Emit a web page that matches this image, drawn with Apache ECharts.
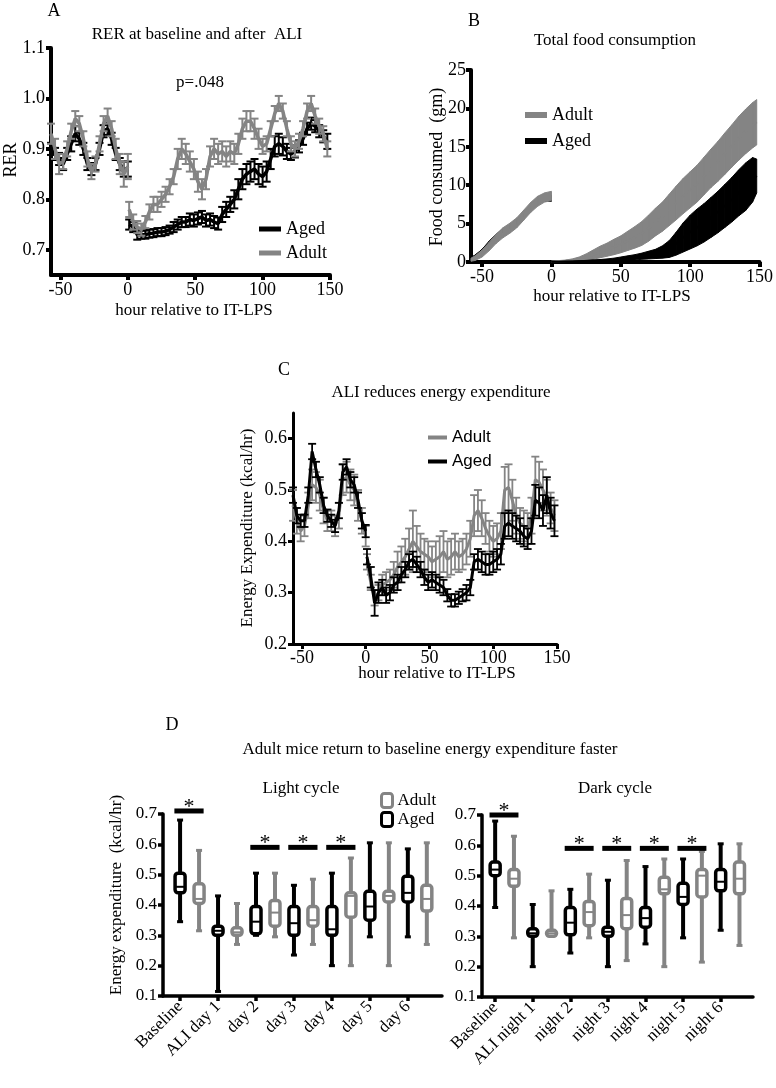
<!DOCTYPE html>
<html>
<head>
<meta charset="utf-8">
<script src="https://cdn.jsdelivr.net/npm/echarts@6/dist/echarts.min.js"></script>
<style>
  html, body { margin: 0; padding: 0; background: #fff; }
  #chart { width: 776px; height: 1088px; }
</style>
</head>
<body>
<div id="chart"></div>
<script>
// hours relative to IT-LPS (shared by panels A and C)
const hoursPre = [-57, -54, -51, -48, -45, -42, -39, -36, -33, -30, -27, -24, -21, -18, -15, -12, -9, -6, -3, 0]
const hoursPost = [1, 4, 7, 10, 13, 16, 19, 22, 25, 28, 31, 34, 37, 40, 43, 46, 49, 52, 55, 58,
  61, 64, 67, 70, 73, 76, 79, 82, 85, 88, 91, 94, 97, 100, 103, 106, 109, 112, 115, 118,
  121, 124, 127, 130, 133, 136, 139, 142, 145, 148]

// A - RER
const rerAdultPre = [0.93, 0.90, 0.87, 0.875, 0.90, 0.935, 0.96, 0.95, 0.92, 0.88, 0.855, 0.87, 0.91, 0.95, 0.965, 0.94, 0.90, 0.87, 0.85, 0.865]
const rerAdultPreSem = [0.02, 0.02, 0.02, 0.015, 0.015, 0.015, 0.015, 0.015, 0.015, 0.015, 0.015, 0.015, 0.015, 0.015, 0.015, 0.015, 0.02, 0.02, 0.025, 0.025]
const rerAgedPre = [0.90, 0.89, 0.88, 0.87, 0.89, 0.91, 0.93, 0.92, 0.90, 0.87, 0.86, 0.87, 0.90, 0.935, 0.94, 0.92, 0.89, 0.87, 0.86, 0.86]
const rerAgedPreSem = [0.012, 0.012, 0.012, 0.012, 0.012, 0.015, 0.015, 0.012, 0.012, 0.012, 0.012, 0.012, 0.012, 0.012, 0.012, 0.012, 0.012, 0.012, 0.015, 0.015]
const rerAdultPost = [0.78, 0.755, 0.745, 0.74, 0.755, 0.775, 0.79, 0.79, 0.80, 0.81,
  0.825, 0.845, 0.88, 0.90, 0.89, 0.875, 0.86, 0.835, 0.82, 0.84,
  0.885, 0.90, 0.89, 0.895, 0.885, 0.895, 0.89, 0.91, 0.94, 0.955,
  0.955, 0.94, 0.92, 0.905, 0.91, 0.94, 0.97, 0.99, 0.975, 0.94,
  0.91, 0.90, 0.915, 0.94, 0.975, 0.99, 0.965, 0.945, 0.93, 0.90]
const rerAdultPostSem = [0.015, 0.015, 0.012, 0.012, 0.012, 0.015, 0.015, 0.015, 0.015, 0.015,
  0.015, 0.015, 0.02, 0.02, 0.02, 0.02, 0.02, 0.02, 0.02, 0.02,
  0.02, 0.02, 0.02, 0.02, 0.02, 0.02, 0.02, 0.02, 0.02, 0.02,
  0.02, 0.02, 0.02, 0.015, 0.015, 0.015, 0.015, 0.015, 0.015, 0.015,
  0.015, 0.015, 0.015, 0.015, 0.015, 0.015, 0.015, 0.015, 0.015, 0.015]
const rerAgedPost = [0.75, 0.745, 0.73, 0.73, 0.73, 0.732, 0.733, 0.735, 0.735, 0.737,
  0.74, 0.745, 0.75, 0.755, 0.755, 0.76, 0.758, 0.762, 0.765, 0.758,
  0.76, 0.755, 0.752, 0.77, 0.78, 0.79, 0.80, 0.82, 0.84, 0.85,
  0.855, 0.86, 0.85, 0.845, 0.855, 0.88, 0.905, 0.91, 0.905, 0.895,
  0.89, 0.895, 0.905, 0.92, 0.94, 0.95, 0.945, 0.935, 0.925, 0.915]
const rerAgedPostSem = [0.01, 0.01, 0.01, 0.008, 0.008, 0.008, 0.008, 0.008, 0.008, 0.008,
  0.008, 0.01, 0.01, 0.01, 0.01, 0.012, 0.012, 0.012, 0.012, 0.012,
  0.012, 0.012, 0.012, 0.015, 0.015, 0.015, 0.018, 0.02, 0.02, 0.02,
  0.02, 0.02, 0.02, 0.02, 0.02, 0.02, 0.02, 0.02, 0.018, 0.015,
  0.012, 0.012, 0.012, 0.012, 0.012, 0.012, 0.012, 0.012, 0.012, 0.015]

// B - cumulative food
const foodPreHours = [-58, -55, -50, -45, -40, -35, -30, -25, -20, -15, -10, -5, 0]
const foodAdultPre = [0.3, 0.5, 1.1, 2.0, 3.0, 3.8, 4.4, 5.1, 6.1, 7.1, 7.9, 8.4, 8.6]
const foodAdultPreSem = [0.2, 0.3, 0.45, 0.55, 0.6, 0.65, 0.65, 0.65, 0.65, 0.65, 0.65, 0.6, 0.6]
const foodAgedPre = [0.5, 0.8, 1.5, 2.5, 3.4, 4.1, 4.6, 5.2, 6.1, 7.1, 7.8, 8.2, 8.3]
const foodAgedPreSem = [0.1, 0.1, 0.15, 0.2, 0.2, 0.2, 0.2, 0.2, 0.2, 0.2, 0.2, 0.3, 0.4]
const foodPostHours = [0, 5, 10, 15, 20, 25, 30, 35, 40, 45, 50, 55, 60, 65, 70, 75, 80, 85, 90, 95,
  100, 105, 110, 115, 120, 125, 130, 135, 140, 145, 148]
const foodAdultPost = [0.05, 0.1, 0.15, 0.25, 0.4, 0.65, 0.95, 1.3, 1.6, 1.95,
  2.3, 2.75, 3.2, 3.7, 4.4, 5.2, 5.9, 6.8, 7.7, 8.6,
  9.4, 10.2, 11.2, 12.2, 13.1, 14.1, 15.1, 16.1, 17.0, 17.8, 18.2]
const foodAdultPostSem = [0.05, 0.08, 0.1, 0.15, 0.25, 0.4, 0.6, 0.75, 0.85, 1.0,
  1.1, 1.25, 1.4, 1.55, 1.7, 1.8, 1.9, 2.05, 2.2, 2.3,
  2.35, 2.4, 2.45, 2.5, 2.6, 2.7, 2.75, 2.85, 2.9, 2.95, 2.95]
const foodAgedPost = [0.02, 0.03, 0.05, 0.07, 0.1, 0.13, 0.17, 0.2, 0.25, 0.3,
  0.4, 0.5, 0.6, 0.75, 0.9, 1.05, 1.3, 1.7, 2.4, 3.2,
  3.9, 4.5, 5.1, 5.8, 6.5, 7.3, 8.1, 9.0, 9.8, 10.7, 11.2]
const foodAgedPostSem = [0.02, 0.03, 0.04, 0.05, 0.06, 0.08, 0.1, 0.12, 0.15, 0.2,
  0.25, 0.3, 0.35, 0.4, 0.5, 0.6, 0.8, 1.1, 1.5, 1.9,
  2.2, 2.4, 2.5, 2.6, 2.7, 2.8, 2.9, 3.0, 3.1, 2.9, 2.2]

// C - energy expenditure
const eeAdultPre = [0.47, 0.44, 0.42, 0.43, 0.47, 0.51, 0.505, 0.49, 0.46, 0.44, 0.44, 0.43, 0.45, 0.52, 0.525, 0.51, 0.50, 0.47, 0.44, 0.41]
const eeAdultPreSem = [0.03, 0.025, 0.02, 0.02, 0.025, 0.03, 0.03, 0.03, 0.025, 0.02, 0.02, 0.02, 0.025, 0.03, 0.03, 0.03, 0.03, 0.03, 0.025, 0.02]
const eeAgedPre = [0.49, 0.45, 0.44, 0.44, 0.49, 0.575, 0.54, 0.51, 0.47, 0.45, 0.44, 0.43, 0.46, 0.535, 0.545, 0.52, 0.51, 0.48, 0.44, 0.42]
const eeAgedPreSem = [0.015, 0.015, 0.012, 0.012, 0.015, 0.015, 0.015, 0.015, 0.015, 0.012, 0.012, 0.012, 0.015, 0.015, 0.015, 0.015, 0.015, 0.015, 0.015, 0.012]
const eeAdultPost = [0.36, 0.32, 0.29, 0.30, 0.315, 0.32, 0.325, 0.335, 0.35, 0.36,
  0.37, 0.385, 0.40, 0.39, 0.38, 0.375, 0.37, 0.36, 0.365, 0.37,
  0.38, 0.365, 0.37, 0.38, 0.37, 0.375, 0.385, 0.405, 0.45, 0.46,
  0.445, 0.425, 0.41, 0.40, 0.405, 0.42, 0.50, 0.505, 0.48, 0.45,
  0.435, 0.43, 0.425, 0.45, 0.52, 0.515, 0.50, 0.485, 0.465, 0.45]
const eeAdultPostSem = [0.015, 0.015, 0.015, 0.015, 0.02, 0.02, 0.02, 0.025, 0.03, 0.03,
  0.035, 0.04, 0.06, 0.04, 0.035, 0.03, 0.03, 0.03, 0.035, 0.04,
  0.04, 0.035, 0.035, 0.035, 0.03, 0.03, 0.03, 0.035, 0.04, 0.04,
  0.035, 0.03, 0.03, 0.03, 0.03, 0.035, 0.045, 0.045, 0.04, 0.035,
  0.03, 0.03, 0.03, 0.035, 0.045, 0.04, 0.04, 0.035, 0.03, 0.03]
const eeAgedPost = [0.37, 0.33, 0.28, 0.30, 0.31, 0.295, 0.30, 0.315, 0.32, 0.335,
  0.345, 0.36, 0.365, 0.355, 0.345, 0.33, 0.32, 0.325, 0.32, 0.315,
  0.31, 0.295, 0.285, 0.285, 0.29, 0.295, 0.30, 0.31, 0.36, 0.365,
  0.36, 0.355, 0.355, 0.36, 0.365, 0.375, 0.43, 0.435, 0.43, 0.425,
  0.42, 0.41, 0.405, 0.42, 0.48, 0.475, 0.46, 0.49, 0.455, 0.44]
const eeAgedPostSem = [0.015, 0.02, 0.025, 0.02, 0.015, 0.015, 0.015, 0.015, 0.015, 0.015,
  0.015, 0.015, 0.015, 0.015, 0.015, 0.015, 0.015, 0.015, 0.015, 0.015,
  0.015, 0.012, 0.012, 0.012, 0.012, 0.012, 0.015, 0.015, 0.015, 0.02,
  0.02, 0.02, 0.02, 0.02, 0.02, 0.02, 0.025, 0.025, 0.025, 0.025,
  0.025, 0.02, 0.02, 0.025, 0.03, 0.03, 0.03, 0.035, 0.03, 0.03]

// D - box plots [min, q1, median, q3, max]
const lightCats = ['Baseline', 'ALI day 1', 'day 2', 'day 3', 'day 4', 'day 5', 'day 6']
const lightAged = [[0.345, 0.44, 0.46, 0.505, 0.68], [0.115, 0.30, 0.315, 0.33, 0.43], [0.30, 0.305, 0.345, 0.395, 0.505],
  [0.235, 0.30, 0.34, 0.395, 0.465], [0.2, 0.30, 0.32, 0.395, 0.505], [0.295, 0.35, 0.395, 0.445, 0.605], [0.295, 0.41, 0.44, 0.495, 0.585]]
const lightAdult = [[0.315, 0.405, 0.42, 0.47, 0.58], [0.27, 0.30, 0.31, 0.325, 0.405], [0.295, 0.33, 0.375, 0.415, 0.505],
  [0.27, 0.33, 0.35, 0.395, 0.485], [0.2, 0.36, 0.43, 0.44, 0.555], [0.2, 0.41, 0.43, 0.445, 0.605], [0.27, 0.38, 0.42, 0.465, 0.605]]
const lightSig = [0, 2, 3, 4]
const lightSigLevel = [0.71, 0.59, 0.59, 0.59]

const darkCats = ['Baseline', 'ALI night 1', 'night 2', 'night 3', 'night 4', 'night 5', 'night 6']
const darkAged = [[0.395, 0.50, 0.52, 0.545, 0.68], [0.2, 0.30, 0.31, 0.325, 0.405], [0.245, 0.305, 0.345, 0.395, 0.455],
  [0.2, 0.30, 0.315, 0.33, 0.485], [0.275, 0.33, 0.36, 0.395, 0.53], [0.295, 0.405, 0.43, 0.475, 0.555], [0.32, 0.45, 0.48, 0.52, 0.605]]
const darkAdult = [[0.295, 0.465, 0.49, 0.52, 0.63], [0.30, 0.30, 0.31, 0.32, 0.45], [0.295, 0.335, 0.38, 0.415, 0.505],
  [0.22, 0.325, 0.37, 0.425, 0.55], [0.2, 0.44, 0.455, 0.495, 0.555], [0.215, 0.43, 0.50, 0.52, 0.58], [0.27, 0.44, 0.49, 0.545, 0.605]]
const darkSig = [0, 2, 3, 4, 5]
const darkSigLevel = [0.70, 0.59, 0.59, 0.59, 0.59]

const hourTicks = [-50, 0, 50, 100, 150]

const GRAY = '#848484'
const BLACK = '#000'
const SERIF = '"Liberation Serif", "Times New Roman", serif'
const SANS = '"Liberation Sans", Arial, sans-serif'

const pairs = (xs, ys) => xs.map((x, i) => [x, ys[i]])
const errData = (xs, ys, es) => xs.map((x, i) => [x, ys[i] - es[i], ys[i] + es[i]])

// error bar with caps
const errRender = (color, cap, lw) => (params, api) => {
  const x = api.value(0)
  const top = api.coord([x, api.value(2)])
  const bot = api.coord([x, api.value(1)])
  const st = { stroke: color, lineWidth: lw }
  return {
    type: 'group',
    children: [
      { type: 'line', shape: { x1: top[0], y1: top[1], x2: bot[0], y2: bot[1] }, style: st },
      { type: 'line', shape: { x1: top[0] - cap, y1: top[1], x2: top[0] + cap, y2: top[1] }, style: st },
      { type: 'line', shape: { x1: bot[0] - cap, y1: bot[1], x2: bot[0] + cap, y2: bot[1] }, style: st }
    ]
  }
}

// filled SEM band between consecutive points
const bandRender = (color) => (params, api) => {
  const i = params.dataIndexInside
  if (i >= params.dataInsideLength - 1) return
  const x0 = api.value(0, i), x1 = api.value(0, i + 1)
  const pts = [
    api.coord([x0, api.value(2, i)]), api.coord([x1, api.value(2, i + 1)]),
    api.coord([x1, api.value(1, i + 1)]), api.coord([x0, api.value(1, i)])
  ]
  return { type: 'polygon', shape: { points: pts }, style: { fill: color, stroke: color, lineWidth: 1 } }
}

// box and whisker
const boxRender = (color) => (params, api) => {
  const x = api.value(0)
  const pMin = api.coord([x, api.value(1)])
  const pQ1 = api.coord([x, api.value(2)])
  const pMed = api.coord([x, api.value(3)])
  const pQ3 = api.coord([x, api.value(4)])
  const pMax = api.coord([x, api.value(5)])
  const hw = 5
  return {
    type: 'group',
    children: [
      { type: 'line', shape: { x1: pMin[0], y1: pMin[1], x2: pMax[0], y2: pMax[1] }, style: { stroke: color, lineWidth: 4 } },
      { type: 'line', shape: { x1: pMin[0] - 3, y1: pMin[1], x2: pMin[0] + 3, y2: pMin[1] }, style: { stroke: color, lineWidth: 3 } },
      { type: 'line', shape: { x1: pMax[0] - 3, y1: pMax[1], x2: pMax[0] + 3, y2: pMax[1] }, style: { stroke: color, lineWidth: 3 } },
      { type: 'rect', shape: { x: pQ3[0] - hw, y: pQ3[1], width: hw * 2, height: pQ1[1] - pQ3[1], r: 3 },
        style: { fill: '#fff', stroke: color, lineWidth: 3.5 } },
      { type: 'line', shape: { x1: pMed[0] - hw, y1: pMed[1], x2: pMed[0] + hw, y2: pMed[1] }, style: { stroke: color, lineWidth: 2 } }
    ]
  }
}

// significance bar with star
const sigRender = (params, api) => {
  const i = api.value(0), lv = api.value(1)
  const a = api.coord([i - 0.15, lv])
  const b = api.coord([i + 0.62, lv])
  return {
    type: 'group',
    children: [
      { type: 'line', shape: { x1: a[0], y1: a[1], x2: b[0], y2: b[1] }, style: { stroke: BLACK, lineWidth: 5 } },
      { type: 'text', x: (a[0] + b[0]) / 2, y: a[1] - 4,
        style: { text: '*', font: '22px ' + SERIF, fill: BLACK, align: 'center', verticalAlign: 'middle',
          textAlign: 'center', textVerticalAlign: 'middle' } }
    ]
  }
}

const label = (x, y, s, size, rot, family) => ({
  type: 'text', x: x, y: y, rotation: rot || 0,
  style: { text: s, font: size + 'px ' + (family || SERIF), fill: BLACK,
    align: 'center', verticalAlign: 'middle', textAlign: 'center', textVerticalAlign: 'middle' }
})

const axisBase = (lw, fs, margin) => ({
  axisLine: { onZero: false, lineStyle: { color: BLACK, width: lw } },
  axisTick: { length: 5, lineStyle: { color: BLACK, width: lw } },
  axisLabel: { color: BLACK, fontFamily: SERIF, fontSize: fs, margin: margin },
  splitLine: { show: false }
})

const mk = (base, extra) => {
  const o = Object.assign({}, base, extra)
  o.axisTick = Object.assign({}, base.axisTick, extra.axisTick || {})
  o.axisLabel = Object.assign({}, base.axisLabel, extra.axisLabel || {})
  return o
}
const fmt1 = (v) => v.toFixed(1)

const lineS = (name, xi, xs, ys, color, width, z) => ({
  name: name, type: 'line', xAxisIndex: xi, yAxisIndex: xi, data: pairs(xs, ys),
  showSymbol: false, symbol: 'none', lineStyle: { color: color, width: width }, itemStyle: { color: color }, z: z
})

const myChart = echarts.init(document.getElementById('chart'))

const option = {
  animation: false,
  backgroundColor: '#fff',
  grid: [
    { left: 51, top: 48, width: 279, height: 227 },
    { left: 471, top: 70, width: 291, height: 192 },
    { left: 293, top: 413, width: 264, height: 231 },
    { left: 163, top: 814, width: 279, height: 182 },
    { left: 482, top: 815, width: 271, height: 182 }
  ],
  xAxis: [
    mk(axisBase(4, 18, 6), { gridIndex: 0, type: 'value', min: -57, max: 150,
      axisTick: { customValues: hourTicks }, axisLabel: { customValues: hourTicks } }),
    mk(axisBase(4, 18, 6), { gridIndex: 1, type: 'value', min: -58, max: 150,
      axisTick: { customValues: hourTicks }, axisLabel: { customValues: hourTicks } }),
    mk(axisBase(3, 18, 5), { gridIndex: 2, type: 'value', min: -57, max: 150,
      axisTick: { customValues: hourTicks }, axisLabel: { customValues: hourTicks } }),
    mk(axisBase(3.5, 17, 8), { gridIndex: 3, type: 'value', min: -0.45, max: 6.9,
      axisTick: { customValues: [0, 1, 2, 3, 4, 5, 6] },
      axisLabel: { customValues: [0, 1, 2, 3, 4, 5, 6], rotate: 45, formatter: (v) => lightCats[Math.round(v)] } }),
    mk(axisBase(3.5, 17, 8), { gridIndex: 4, type: 'value', min: -0.35, max: 6.86,
      axisTick: { customValues: [0, 1, 2, 3, 4, 5, 6] },
      axisLabel: { customValues: [0, 1, 2, 3, 4, 5, 6], rotate: 45, formatter: (v) => darkCats[Math.round(v)] } })
  ],
  yAxis: [
    mk(axisBase(4, 18, 6), { gridIndex: 0, type: 'value', min: 0.65, max: 1.1,
      axisTick: { customValues: [0.7, 0.8, 0.9, 1.0, 1.1] },
      axisLabel: { customValues: [0.7, 0.8, 0.9, 1.0, 1.1], formatter: fmt1 } }),
    mk(axisBase(4, 18, 5), { gridIndex: 1, type: 'value', min: 0, max: 25, interval: 5 }),
    mk(axisBase(3, 18, 6), { gridIndex: 2, type: 'value', min: 0.2, max: 0.65,
      axisTick: { customValues: [0.2, 0.3, 0.4, 0.5, 0.6] },
      axisLabel: { customValues: [0.2, 0.3, 0.4, 0.5, 0.6], formatter: fmt1 } }),
    mk(axisBase(3.5, 17, 6), { gridIndex: 3, type: 'value', min: 0.1, max: 0.7, interval: 0.1, axisLabel: { formatter: fmt1 } }),
    mk(axisBase(3.5, 17, 6), { gridIndex: 4, type: 'value', min: 0.1, max: 0.7, interval: 0.1, axisLabel: { formatter: fmt1 } })
  ],
  legend: [
    { left: 254, top: 215, orient: 'vertical', icon: 'rect', itemWidth: 22, itemHeight: 5, itemGap: 6,
      data: ['Aged', 'Adult'], textStyle: { fontFamily: SERIF, fontSize: 18, color: BLACK } },
    { left: 520, top: 101, orient: 'vertical', icon: 'rect', itemWidth: 22, itemHeight: 6, itemGap: 8,
      data: ['Adult', 'Aged'], textStyle: { fontFamily: SERIF, fontSize: 18, color: BLACK } },
    { left: 423, top: 424, orient: 'vertical', icon: 'rect', itemWidth: 19, itemHeight: 4, itemGap: 7,
      data: ['Adult', 'Aged'], textStyle: { fontFamily: SANS, fontSize: 17, color: BLACK } },
    { left: 375, top: 787, orient: 'vertical', itemWidth: 11, itemHeight: 14, itemGap: 2,
      data: [
        { name: 'Adult', icon: 'roundRect', itemStyle: { color: '#fff', borderColor: GRAY, borderWidth: 3 } },
        { name: 'Aged', icon: 'roundRect', itemStyle: { color: '#fff', borderColor: BLACK, borderWidth: 3 } }
      ],
      textStyle: { fontFamily: SERIF, fontSize: 17, color: BLACK } }
  ],
  graphic: [
    label(54, 11, 'A', 18),
    label(197, 35, 'RER at baseline and after  ALI', 17),
    label(200, 83, 'p=.048', 17),
    label(11, 160, 'RER', 18, Math.PI / 2),
    label(194, 311, 'hour relative to IT-LPS', 17),
    label(474, 21, 'B', 18),
    label(615, 41, 'Total food consumption', 17),
    label(437, 167, 'Food consumed  (gm)', 18, Math.PI / 2),
    label(612, 297, 'hour relative to IT-LPS', 17),
    label(284, 370, 'C', 18),
    label(441, 393, 'ALI reduces energy expenditure', 17),
    label(248, 528, 'Energy Expenditure (kcal/hr)', 17, Math.PI / 2),
    label(437, 674, 'hour relative to IT-LPS', 17),
    label(172, 725, 'D', 18),
    label(430, 750, 'Adult mice return to baseline energy expenditure faster', 17),
    label(301, 789, 'Light cycle', 17),
    label(615, 789, 'Dark cycle', 17),
    label(117, 895, 'Energy expenditure  (kcal/hr)', 17, Math.PI / 2)
  ],
  series: [
    // A
    lineS('Aged', 0, hoursPre, rerAgedPre, BLACK, 3.5, 2),
    lineS('Aged', 0, hoursPost, rerAgedPost, BLACK, 3.5, 2),
    { name: 'Aged SEM', type: 'custom', xAxisIndex: 0, yAxisIndex: 0, z: 2, renderItem: errRender(BLACK, 4, 2),
      data: errData(hoursPre, rerAgedPre, rerAgedPreSem).concat(errData(hoursPost, rerAgedPost, rerAgedPostSem)) },
    lineS('Adult', 0, hoursPre, rerAdultPre, GRAY, 3.5, 3),
    lineS('Adult', 0, hoursPost, rerAdultPost, GRAY, 3.5, 3),
    { name: 'Adult SEM', type: 'custom', xAxisIndex: 0, yAxisIndex: 0, z: 3, renderItem: errRender(GRAY, 4, 2),
      data: errData(hoursPre, rerAdultPre, rerAdultPreSem).concat(errData(hoursPost, rerAdultPost, rerAdultPostSem)) },

    // B
    { name: 'Aged band', type: 'custom', xAxisIndex: 1, yAxisIndex: 1, z: 2, renderItem: bandRender(BLACK),
      data: errData(foodPreHours, foodAgedPre, foodAgedPreSem) },
    lineS('Aged', 1, foodPreHours, foodAgedPre, BLACK, 2, 2),
    { name: 'Adult band', type: 'custom', xAxisIndex: 1, yAxisIndex: 1, z: 3, renderItem: bandRender(GRAY),
      data: errData(foodPreHours, foodAdultPre, foodAdultPreSem) },
    { name: 'Adult band', type: 'custom', xAxisIndex: 1, yAxisIndex: 1, z: 3, renderItem: bandRender(GRAY),
      data: errData(foodPostHours, foodAdultPost, foodAdultPostSem) },
    lineS('Adult', 1, foodPostHours, foodAdultPost, GRAY, 2, 3),
    { name: 'Aged band', type: 'custom', xAxisIndex: 1, yAxisIndex: 1, z: 4, renderItem: bandRender(BLACK),
      data: errData(foodPostHours, foodAgedPost, foodAgedPostSem) },
    lineS('Aged', 1, foodPostHours, foodAgedPost, BLACK, 2, 4),

    // C
    lineS('Adult', 2, hoursPre, eeAdultPre, GRAY, 3, 2),
    lineS('Adult', 2, hoursPost, eeAdultPost, GRAY, 3, 2),
    { name: 'Adult SEM', type: 'custom', xAxisIndex: 2, yAxisIndex: 2, z: 2, renderItem: errRender(GRAY, 4, 1.8),
      data: errData(hoursPre, eeAdultPre, eeAdultPreSem).concat(errData(hoursPost, eeAdultPost, eeAdultPostSem)) },
    lineS('Aged', 2, hoursPre, eeAgedPre, BLACK, 3, 3),
    lineS('Aged', 2, hoursPost, eeAgedPost, BLACK, 3, 3),
    { name: 'Aged SEM', type: 'custom', xAxisIndex: 2, yAxisIndex: 2, z: 3, renderItem: errRender(BLACK, 4, 1.8),
      data: errData(hoursPre, eeAgedPre, eeAgedPreSem).concat(errData(hoursPost, eeAgedPost, eeAgedPostSem)) },

    // D light cycle
    { name: 'Aged', type: 'custom', xAxisIndex: 3, yAxisIndex: 3, renderItem: boxRender(BLACK),
      data: lightAged.map((b, i) => [i].concat(b)) },
    { name: 'Adult', type: 'custom', xAxisIndex: 3, yAxisIndex: 3, renderItem: boxRender(GRAY),
      data: lightAdult.map((b, i) => [i + 0.5].concat(b)) },
    { name: 'sig light', type: 'custom', xAxisIndex: 3, yAxisIndex: 3, renderItem: sigRender,
      data: lightSig.map((c, i) => [c, lightSigLevel[i]]) },

    // D dark cycle
    { name: 'Aged', type: 'custom', xAxisIndex: 4, yAxisIndex: 4, renderItem: boxRender(BLACK),
      data: darkAged.map((b, i) => [i].concat(b)) },
    { name: 'Adult', type: 'custom', xAxisIndex: 4, yAxisIndex: 4, renderItem: boxRender(GRAY),
      data: darkAdult.map((b, i) => [i + 0.5].concat(b)) },
    { name: 'sig dark', type: 'custom', xAxisIndex: 4, yAxisIndex: 4, renderItem: sigRender,
      data: darkSig.map((c, i) => [c, darkSigLevel[i]]) }
  ]
}

myChart.setOption(option)
</script>
</body>
</html>
